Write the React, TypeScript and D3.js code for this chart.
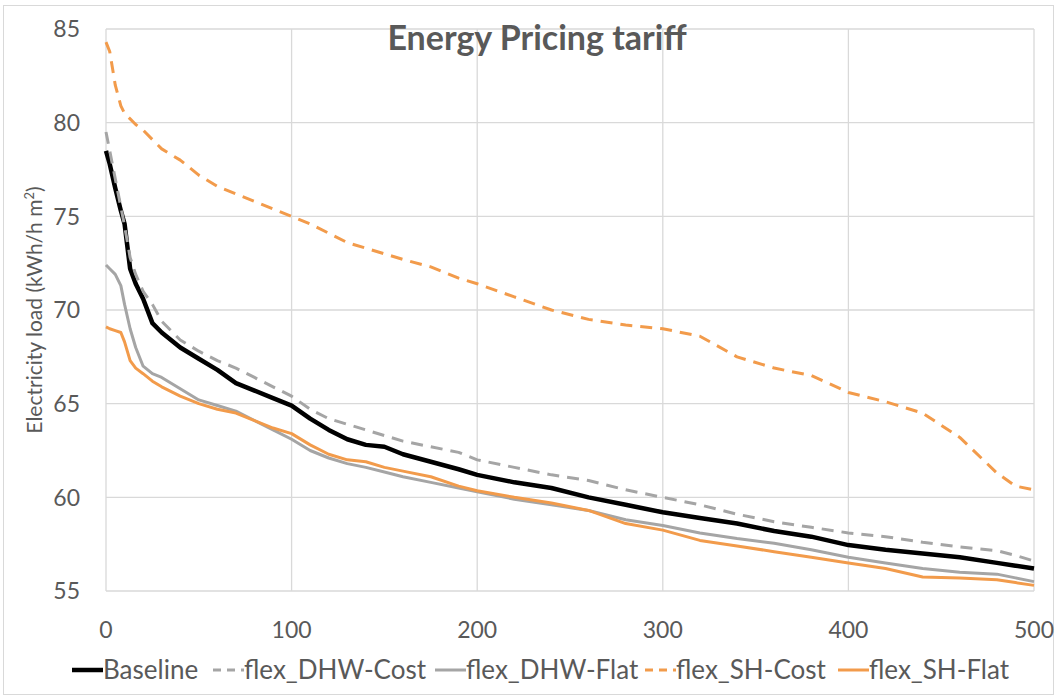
import * as d3 from 'd3';

// hours (ranked)
const hours = [0, 2, 5, 8, 10, 13, 16, 20, 25, 30, 40, 50, 60, 70, 80, 90, 100, 110, 120, 130, 140, 150, 160, 175, 190, 200, 220, 240, 260, 280, 300, 320, 340, 360, 380, 400, 420, 440, 460, 480, 490, 500];

const baseline = [78.5, 77.8, 76.5, 75.3, 74.6, 72.2, 71.4, 70.6, 69.3, 68.8, 68.0, 67.4, 66.8, 66.1, 65.7, 65.3, 64.9, 64.2, 63.6, 63.1, 62.8, 62.7, 62.3, 61.9, 61.5, 61.2, 60.8, 60.5, 60.0, 59.6, 59.2, 58.9, 58.6, 58.2, 57.9, 57.45, 57.2, 57.0, 56.8, 56.5, 56.35, 56.2];
const dhwCost = [79.5, 78.5, 77.0, 75.5, 74.5, 72.8, 71.9, 71.0, 70.3, 69.4, 68.4, 67.8, 67.3, 66.9, 66.4, 65.9, 65.4, 64.7, 64.2, 63.9, 63.6, 63.3, 63.0, 62.7, 62.4, 62.0, 61.6, 61.2, 60.9, 60.4, 60.0, 59.6, 59.1, 58.7, 58.4, 58.1, 57.9, 57.6, 57.35, 57.15, 56.9, 56.6];
const dhwFlat = [72.4, 72.2, 71.9, 71.3, 70.3, 69.0, 68.0, 67.0, 66.6, 66.4, 65.8, 65.2, 64.9, 64.6, 64.1, 63.6, 63.1, 62.5, 62.1, 61.8, 61.6, 61.35, 61.1, 60.8, 60.5, 60.3, 59.9, 59.6, 59.3, 58.8, 58.5, 58.1, 57.8, 57.55, 57.2, 56.8, 56.5, 56.2, 56.0, 55.9, 55.7, 55.5];
const shCost = [84.3, 83.8, 82.0, 80.9, 80.5, 80.2, 79.9, 79.6, 79.1, 78.6, 78.0, 77.2, 76.6, 76.2, 75.8, 75.4, 75.0, 74.6, 74.1, 73.6, 73.3, 73.0, 72.7, 72.3, 71.7, 71.4, 70.7, 70.0, 69.5, 69.2, 69.0, 68.6, 67.5, 66.9, 66.5, 65.6, 65.1, 64.5, 63.2, 61.3, 60.6, 60.4];
const shFlat = [69.1, 69.0, 68.9, 68.8, 68.3, 67.3, 66.9, 66.6, 66.2, 65.9, 65.4, 65.0, 64.7, 64.5, 64.1, 63.7, 63.4, 62.8, 62.3, 62.0, 61.9, 61.6, 61.4, 61.1, 60.6, 60.35, 60.0, 59.7, 59.3, 58.6, 58.25, 57.7, 57.4, 57.1, 56.8, 56.5, 56.2, 55.75, 55.7, 55.6, 55.45, 55.3];

const seriesNames = ['Baseline', 'flex_DHW-Cost', 'flex_DHW-Flat', 'flex_SH-Cost', 'flex_SH-Flat'];
const xTicks = [0, 100, 200, 300, 400, 500];
const yTicks = [55, 60, 65, 70, 75, 80, 85];

const W = 1057;
const H = 698;
const font = 'Lato, "Open Sans", sans-serif';
const textColor = '#595959';
const gridColor = '#D9D9D9';
const gray = '#A5A5A5';
const orange = '#F29B4B';

const styles = [
  { color: '#000000', width: 4.5, dash: undefined as string | undefined },
  { color: gray, width: 3, dash: '12,8' },
  { color: gray, width: 3, dash: undefined },
  { color: orange, width: 3, dash: '12,8' },
  { color: orange, width: 3, dash: undefined },
];

const legendX = [72, 213, 435, 645, 838];

export default function App() {
  const x = d3.scaleLinear().domain([0, 500]).range([106, 1034]);
  const y = d3.scaleLinear().domain([55, 85]).range([591, 29]);

  const line = d3.line<number>()
    .x((_, i) => x(hours[i]))
    .y(d => y(d));

  const allSeries = [baseline, dhwCost, dhwFlat, shCost, shFlat];

  return (
    <svg width={W} height={H} style={{ position: 'absolute', left: 0, top: 0, background: '#fff' }}>
      <rect x={3.5} y={5.5} width={W - 7} height={H - 9} fill="#fff" stroke={gridColor} />

      {/* gridlines */}
      {yTicks.map(t => (
        <line key={'gy' + t} x1={x(0)} x2={x(500)} y1={y(t)} y2={y(t)} stroke={gridColor} strokeWidth={1.3} />
      ))}
      {xTicks.map(t => (
        <line key={'gx' + t} x1={x(t)} x2={x(t)} y1={y(85)} y2={y(55)} stroke={gridColor} strokeWidth={1.3} />
      ))}

      {/* tick labels */}
      {yTicks.map(t => (
        <text key={'ty' + t} x={80} y={y(t)} dy="0.36em" textAnchor="end" fontFamily={font} fontSize={23} fill={textColor}>
          {t}
        </text>
      ))}
      {xTicks.map(t => (
        <text key={'tx' + t} x={x(t)} y={638} textAnchor="middle" fontFamily={font} fontSize={23} fill={textColor}>
          {t}
        </text>
      ))}

      {/* series */}
      {allSeries.map((s, i) => (
        <path key={seriesNames[i]} d={line(s) ?? ''} fill="none" stroke={styles[i].color}
          strokeWidth={styles[i].width} strokeDasharray={styles[i].dash} strokeLinejoin="round" />
      ))}

      {/* title */}
      <text x={537} y={50} textAnchor="middle" fontFamily={font} fontWeight="bold" fontSize={34} fill={textColor}>
        Energy Pricing tariff
      </text>

      {/* y axis title */}
      <text transform={`translate(42,${(y(55) + y(85)) / 2}) rotate(-90)`} textAnchor="middle" fontFamily={font} fontSize={21} fill={textColor}>
        Electricity load (kWh/h m<tspan baselineShift="super" fontSize={13}>2</tspan>)
      </text>

      {/* legend */}
      {seriesNames.map((name, i) => (
        <g key={'lg' + name} transform={`translate(${legendX[i]},670)`}>
          <line x1={0} x2={31} y1={0} y2={0} stroke={styles[i].color} strokeWidth={styles[i].width}
            strokeDasharray={styles[i].dash ? '8,6' : undefined} />
          <text x={31} y={0} dy="0.36em" fontFamily={font} fontSize={26} fill={textColor}>{name}</text>
        </g>
      ))}
    </svg>
  );
}
